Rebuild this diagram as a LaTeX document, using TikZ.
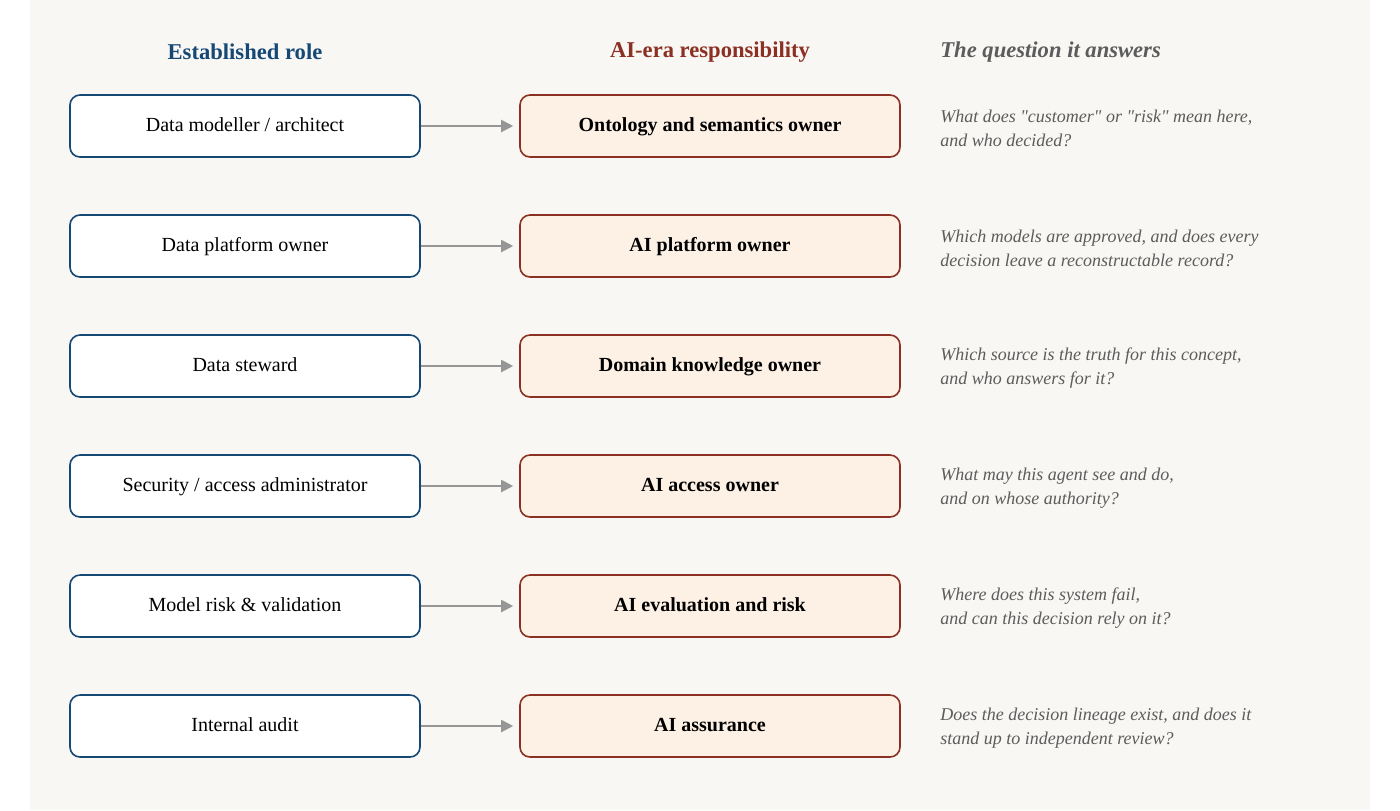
\documentclass[tikz,border=0pt]{standalone}
\usepackage{fontspec}
\setmainfont{Liberation Serif}
\definecolor{mypanel}{RGB}{248,247,244}
\definecolor{myblue}{RGB}{22,72,118}
\definecolor{myrust}{RGB}{140,48,36}
\definecolor{mycream}{RGB}{253,240,228}
\definecolor{mygray}{RGB}{92,92,92}
\definecolor{myarrow}{RGB}{150,150,150}
\usetikzlibrary{arrows.meta,positioning}
\tikzstyle{oldrole}=[draw=myblue,fill=white,rounded corners=5pt,line width=0.8pt,minimum width=175pt,minimum height=31pt,text height=7pt,text depth=2pt,font=\fontsize{10}{12}\selectfont]
\tikzstyle{newrole}=[draw=myrust,fill=mycream,rounded corners=5pt,line width=0.8pt,minimum width=190pt,minimum height=31pt,text height=7pt,text depth=2pt,font=\fontsize{10}{12}\selectfont\bfseries]
\tikzstyle{question}=[anchor=west,align=left,text=mygray,inner sep=0pt,font=\fontsize{9}{12}\selectfont\itshape]
\tikzstyle{maps to}=[draw=myarrow,line width=1pt,-{Triangle[length=6pt,width=6pt]}]
\begin{document}
\begin{tikzpicture}[x=0.5pt,y=-0.5pt]
\useasboundingbox (0,0) rectangle (1400,810);
\fill[mypanel] (30,0) rectangle (1370,810);
\node[text=myblue,font=\fontsize{11.3}{13}\selectfont\bfseries] (h1) at (245,52) {Established role};
\node[text=myrust,font=\fontsize{11.3}{13}\selectfont\bfseries] (h2) at (710,52) {AI-era responsibility};
\node[anchor=west,inner sep=0pt,text=mygray,font=\fontsize{11.3}{13}\selectfont\bfseries\itshape] (h3) at (940,52) {The question it answers};
% rows
\node[oldrole] (o1) at (245,126) {Data modeller / architect};
\node[newrole] (n1) at (710,126) {Ontology and semantics owner};
\node[question] (q1) at (940,128) {What does \textquotedbl customer\textquotedbl{} or \textquotedbl risk\textquotedbl{} mean here,\\and who decided?};
\node[oldrole] (o2) at (245,246) {Data platform owner};
\node[newrole] (n2) at (710,246) {AI platform owner};
\node[question] (q2) at (940,248) {Which models are approved, and does every\\decision leave a reconstructable record?};
\node[oldrole] (o3) at (245,366) {Data steward};
\node[newrole] (n3) at (710,366) {Domain knowledge owner};
\node[question] (q3) at (940,368) {Which source is the truth for this concept,\\and who answers for it?};
\node[oldrole] (o4) at (245,486) {Security / access administrator};
\node[newrole] (n4) at (710,486) {AI access owner};
\node[question] (q4) at (940,488) {What may this agent see and do,\\and on whose authority?};
\node[oldrole] (o5) at (245,606) {Model risk \& validation};
\node[newrole] (n5) at (710,606) {AI evaluation and risk};
\node[question] (q5) at (940,608) {Where does this system fail,\\and can this decision rely on it?};
\node[oldrole] (o6) at (245,726) {Internal audit};
\node[newrole] (n6) at (710,726) {AI assurance};
\node[question] (q6) at (940,728) {Does the decision lineage exist, and does it\\stand up to independent review?};
\draw[maps to] (o1) -- ([xshift=-3pt]n1.west);
\draw[maps to] (o2) -- ([xshift=-3pt]n2.west);
\draw[maps to] (o3) -- ([xshift=-3pt]n3.west);
\draw[maps to] (o4) -- ([xshift=-3pt]n4.west);
\draw[maps to] (o5) -- ([xshift=-3pt]n5.west);
\draw[maps to] (o6) -- ([xshift=-3pt]n6.west);
\end{tikzpicture}
\end{document}
